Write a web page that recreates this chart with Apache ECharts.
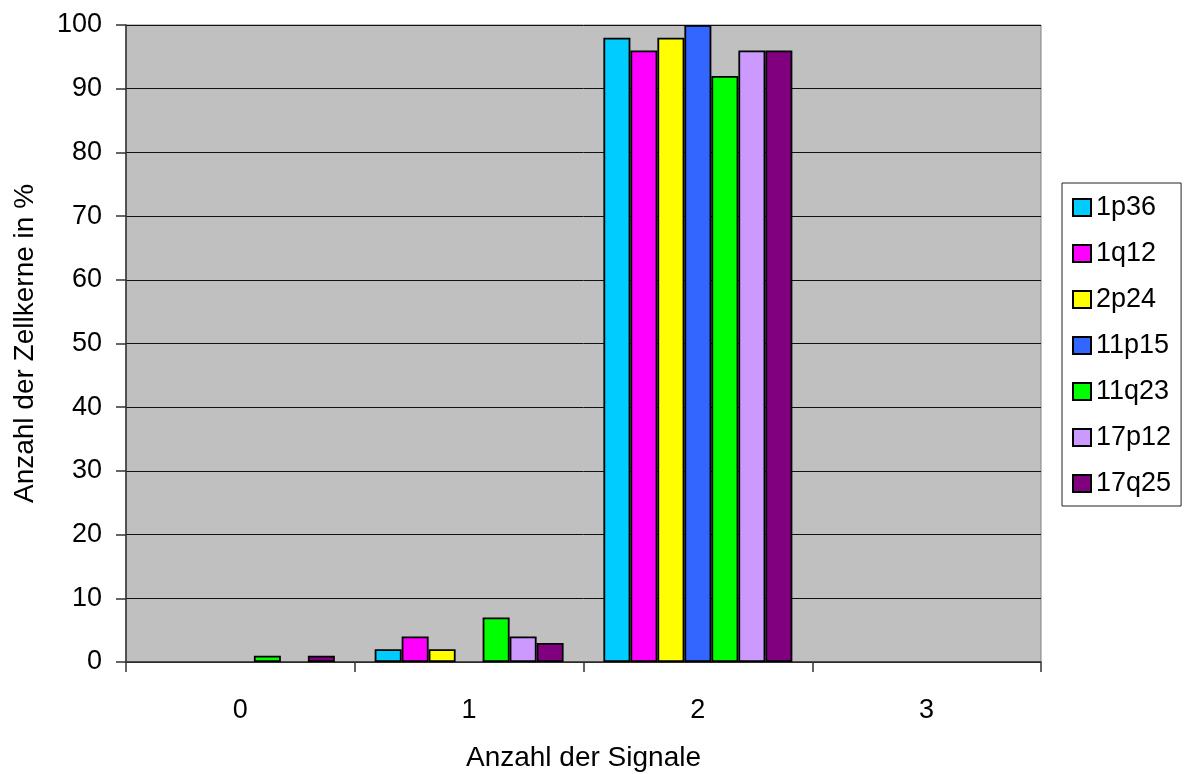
<!DOCTYPE html>
<html><head><meta charset="utf-8">
<script src="https://cdn.jsdelivr.net/npm/echarts@6/dist/echarts.min.js"></script>
<style>html,body{margin:0;padding:0;background:#fff}#c{width:1190px;height:774px}</style>
</head><body><div id="c"></div>
<script>
const categories = ['0', '1', '2', '3'];
const seriesNames = ['1p36', '1q12', '2p24', '11p15', '11q23', '17p12', '17q25'];
const colors = ['#00CCFF', '#FF00FF', '#FFFF00', '#3366FF', '#00FF00', '#CC99FF', '#800080'];
const v1p36 = [0, 2, 98, 0];
const v1q12 = [0, 4, 96, 0];
const v2p24 = [0, 2, 98, 0];
const v11p15 = [0, 0, 100, 0];
const v11q23 = [1, 7, 92, 0];
const v17p12 = [0, 4, 96, 0];
const v17q25 = [1, 3, 96, 0];
const values = [v1p36, v1q12, v2p24, v11p15, v11q23, v17p12, v17q25];
const yTicks = [0, 10, 20, 30, 40, 50, 60, 70, 80, 90, 100];

const font = 'Liberation Sans, Arial, sans-serif';
const FS = 27;
const chart = echarts.init(document.getElementById('c'));
chart.setOption({
  animation: false,
  textStyle: { fontFamily: font, color: '#000' },
  grid: { left: 126, right: 149, top: 25, bottom: 112, outerBoundsMode: 'none', containLabel: false,
    show: true, backgroundColor: '#C0C0C0', borderColor: '#808080', borderWidth: 1 },
  legend: {
    orient: 'vertical', left: 1062, top: 183,
    padding: [11, 10, 9, 10],
    borderColor: '#222', borderWidth: 1,
    icon: 'rect',
    itemWidth: 18, itemHeight: 17, itemGap: 19, itemTextGap: 16,
    textStyle: { fontSize: FS, lineHeight: 27, color: '#000', fontFamily: font },
    data: seriesNames
  },
  xAxis: {
    type: 'category', data: categories,
    name: 'Anzahl der Signale', nameLocation: 'middle', nameGap: 82,
    nameTextStyle: { fontSize: 28, color: '#000', fontFamily: font },
    axisLine: { lineStyle: { color: '#333', width: 1.5 } },
    axisTick: { show: true, length: 10, lineStyle: { color: '#333', width: 1.5 } },
    axisLabel: { fontSize: FS, color: '#000', margin: 35, fontFamily: font },
    splitLine: { show: false }
  },
  yAxis: {
    type: 'value', min: 0, max: 100, interval: 10,
    name: 'Anzahl der Zellkerne in %', nameLocation: 'middle', nameGap: 87,
    nameTextStyle: { fontSize: 28, color: '#000', fontFamily: font },
    axisLine: { show: true, lineStyle: { color: '#333', width: 1.5 } },
    axisTick: { show: true, length: 10, lineStyle: { color: '#333', width: 1.5 } },
    axisLabel: { fontSize: FS, color: '#000', margin: 24, fontFamily: font,
      formatter: v => yTicks.includes(v) ? String(v) : '' },
    splitLine: { show: true, lineStyle: { color: '#111', width: 1 } }
  },
  series: seriesNames.map((n, i) => ({
    name: n, type: 'bar', data: values[i].map(v => v === 0 ? null : v),
    barGap: '0%', barCategoryGap: '17.4%',
    itemStyle: { color: colors[i], borderColor: '#000', borderWidth: 1.8 }
  }))
});
</script></body></html>
